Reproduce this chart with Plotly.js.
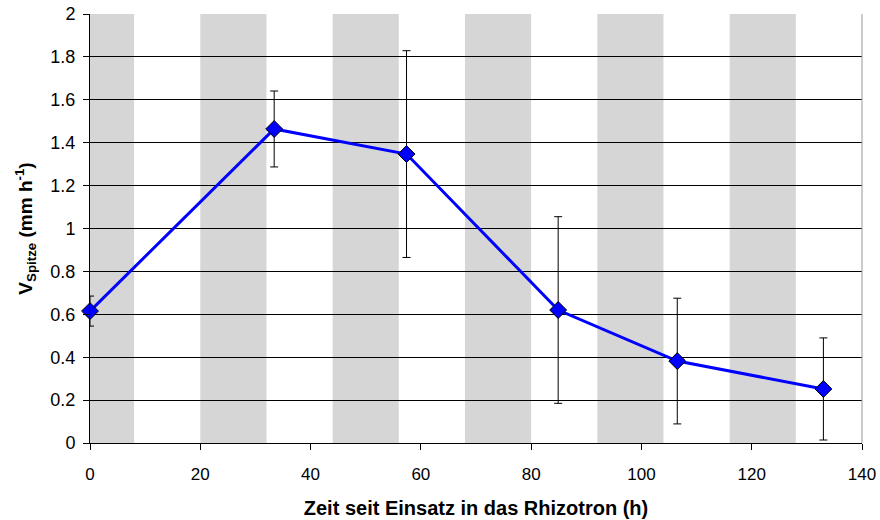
<!DOCTYPE html>
<html>
<head>
<meta charset="utf-8">
<script src="https://cdn.plot.ly/plotly-3.0.1.min.js"></script>
<style>html,body{margin:0;padding:0;background:#fff;}#chart{width:880px;height:520px;}</style>
</head>
<body>
<div id="chart"></div>
<script>
// Data
var timeH = [0, 33.4, 57.4, 84.9, 106.5, 133.0];
var vSpitze = [0.615, 1.464, 1.347, 0.62, 0.382, 0.252];
var errSD = [0.07, 0.177, 0.482, 0.435, 0.293, 0.238];
var nightStart = [0, 20, 44, 68, 92, 116];
var nightEnd = [8, 32, 56, 80, 104, 128];
var xTicks = [0, 20, 40, 60, 80, 100, 120, 140];
var yTicks = [0, 0.2, 0.4, 0.6, 0.8, 1, 1.2, 1.4, 1.6, 1.8, 2];

var shapes = nightStart.map(function(s, i) {
  return {type: 'rect', xref: 'x', yref: 'y', x0: s, x1: nightEnd[i], y0: 0, y1: 2,
          fillcolor: '#d6d6d6', line: {width: 0}, layer: 'below'};
});

var trace = {
  x: timeH, y: vSpitze, type: 'scatter', mode: 'lines+markers',
  line: {color: '#0000ff', width: 3},
  marker: {symbol: 'diamond', size: 13, color: '#0000ff', line: {color: '#000', width: 1}},
  error_y: {type: 'data', array: errSD, visible: true, color: '#000', thickness: 1, width: 4},
  cliponaxis: false
};

var fam = 'Liberation Sans, Arial, sans-serif';
var layout = {
  width: 880, height: 520,
  margin: {l: 90, r: 18, t: 14, b: 77},
  paper_bgcolor: '#fff', plot_bgcolor: '#fff',
  showlegend: false,
  shapes: shapes,
  font: {family: fam, size: 17, color: '#000'},
  xaxis: {
    range: [0, 140], tickvals: xTicks, ticktext: xTicks.map(String),
    showgrid: false, zeroline: false, showline: true, linecolor: '#000', linewidth: 1,
    ticks: 'outside', ticklen: 6, tickcolor: '#000', tickfont: {size: 17},
    ticklabelstandoff: 10,
    title: {text: '<b>Zeit seit Einsatz in das Rhizotron (h)</b>', font: {size: 20}, standoff: 17}
  },
  yaxis: {
    range: [0, 2], tickvals: yTicks, ticktext: yTicks.map(function(v){return String(v);}),
    showgrid: true, gridcolor: '#000', gridwidth: 1, zeroline: false,
    showline: true, linecolor: '#000', linewidth: 1,
    ticks: 'outside', ticklen: 6, tickcolor: '#000', tickfont: {size: 18},
    ticklabelstandoff: 4,
    title: {text: '<b>V<sub>Spitze</sub> (mm h<sup>-1</sup>)</b>', font: {size: 19}, standoff: 12}
  }
};

// right border line
layout.shapes.push({type: 'line', xref: 'paper', yref: 'paper', x0: 1, x1: 1, y0: 0, y1: 1,
  line: {color: '#999', width: 1}});

Plotly.newPlot('chart', [trace], layout, {displayModeBar: false, staticPlot: true});
</script>
</body>
</html>
